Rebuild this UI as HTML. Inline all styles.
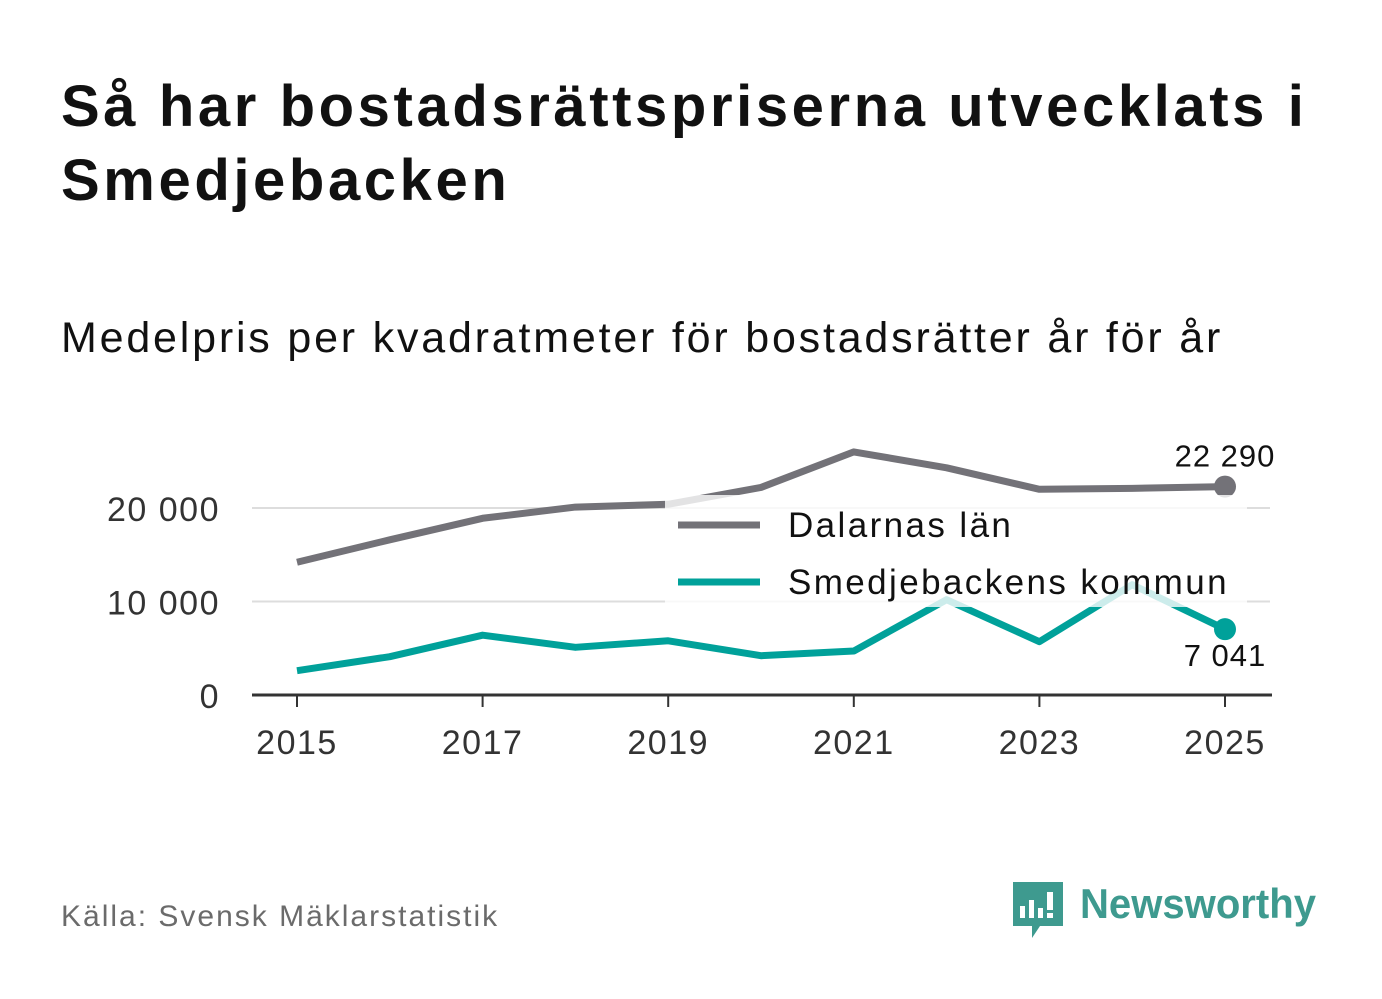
<!DOCTYPE html>
<html><head><meta charset="utf-8"><style>
body{margin:0;background:#fff;font-family:"Liberation Sans",sans-serif;}
#wrap{position:relative;width:1382px;height:999px;overflow:hidden;}
h1{position:absolute;left:61px;top:70px;margin:0;font-size:58px;line-height:74px;font-weight:bold;color:#111;letter-spacing:3.6px;}
.sub{position:absolute;left:61px;top:314px;font-size:43px;color:#111;letter-spacing:2.8px;}
.src{position:absolute;left:61px;top:900px;font-size:30px;color:#6b6b6b;letter-spacing:2px;}
.logo{position:absolute;left:1010px;top:878px;}
</style></head><body><div id="wrap">
<h1>Så har bostadsrättspriserna utvecklats i<br>Smedjebacken</h1>
<div class="sub">Medelpris per kvadratmeter för bostadsrätter år för år</div>
<svg id="chart" width="1382" height="999" style="position:absolute;left:0;top:0"></svg>
<div class="src">Källa: Svensk Mäklarstatistik</div>
<div class="logo">
<svg width="330" height="64"><path d="M3 4h50v44H30l-8 12v-12H3z" fill="#3e9a8f"/>
<rect x="10" y="28" width="5" height="12" fill="#fff"/><rect x="19" y="22" width="5" height="18" fill="#fff"/><rect x="28" y="30" width="5" height="10" fill="#fff"/><rect x="37" y="14" width="6" height="18" fill="#fff"/><rect x="37" y="35" width="6" height="5" fill="#fff"/>
<text x="70" y="40" font-size="42" font-weight="bold" fill="#3e9a8f" textLength="236" lengthAdjust="spacingAndGlyphs" font-family="Liberation Sans,sans-serif">Newsworthy</text></svg></div>
</div>
<script>
const years=[2015,2016,2017,2018,2019,2020,2021,2022,2023,2024,2025];
const dalarna=[14200,16600,18900,20100,20400,22200,26000,24300,22000,22100,22290];
const smedje=[2600,4100,6400,5100,5800,4200,4700,10200,5700,11800,7041];
const yTicks=[0,10000,20000];
const xTicks=[2015,2017,2019,2021,2023,2025];
const NS="http://www.w3.org/2000/svg";
const svg=document.getElementById('chart');
const x=v=>297+(v-2015)*92.8;
const y=v=>695-v*0.00935;
const fmt=v=>v.toLocaleString('en-US').replace(/,/g,' ');
function mk(t,a){const e=document.createElementNS(NS,t);for(const k in a)e.setAttribute(k,a[k]);svg.appendChild(e);return e;}
yTicks.forEach(v=>{
 if(v>0){const g=mk('line',{x1:252,x2:1270,y1:y(v),y2:y(v),stroke:'#ddd','stroke-width':2});
 
 }
 const t=mk('text',{x:220,y:y(v)+13,'text-anchor':'end','font-size':34,fill:'#333','letter-spacing':1.5});t.textContent=fmt(v);
 
 
});
const ax=mk('line',{x1:252,x2:1272,y1:695,y2:695,stroke:'#333','stroke-width':3});


xTicks.forEach(v=>{
 const tk=mk('line',{x1:x(v),x2:x(v),y1:695,y2:707,stroke:'#333','stroke-width':2});
 
 
 const t=mk('text',{x:x(v),y:754,'text-anchor':'middle','font-size':34,fill:'#333','letter-spacing':1.5});t.textContent=v;
 
 
});
function series(vals,color,name){
 const p=mk('polyline',{points:vals.map((v,i)=>x(years[i])+','+y(v)).join(' '),fill:'none',stroke:color,'stroke-width':7,'stroke-linejoin':'round'});
 
 
 const l=vals.length-1;
 const c=mk('circle',{cx:x(years[l]),cy:y(vals[l]),r:11,fill:color});
 
 
}
series(dalarna,'#737278','dalarna');
series(smedje,'#00a19a','smedjebacken');
const bg=mk('rect',{x:665,y:495,width:582,height:112,fill:'#fff','fill-opacity':0.8});


[['Dalarnas län','#737278',525],['Smedjebackens kommun','#00a19a',582]].forEach(([n,c,yy])=>{
 const l=mk('line',{x1:678,x2:760,y1:yy,y2:yy,stroke:c,'stroke-width':7});
 
 
 const t=mk('text',{x:788,y:yy+12,'font-size':35,fill:'#111','letter-spacing':2.4});t.textContent=n;
 
 
});
const l1=mk('text',{x:1225,y:y(dalarna[10])-20,'text-anchor':'middle','font-size':31,fill:'#111','letter-spacing':1});l1.textContent=fmt(dalarna[10]);


const l2=mk('text',{x:1225,y:y(smedje[10])+37,'text-anchor':'middle','font-size':31,fill:'#111','letter-spacing':1});l2.textContent=fmt(smedje[10]);


</script></body></html>
